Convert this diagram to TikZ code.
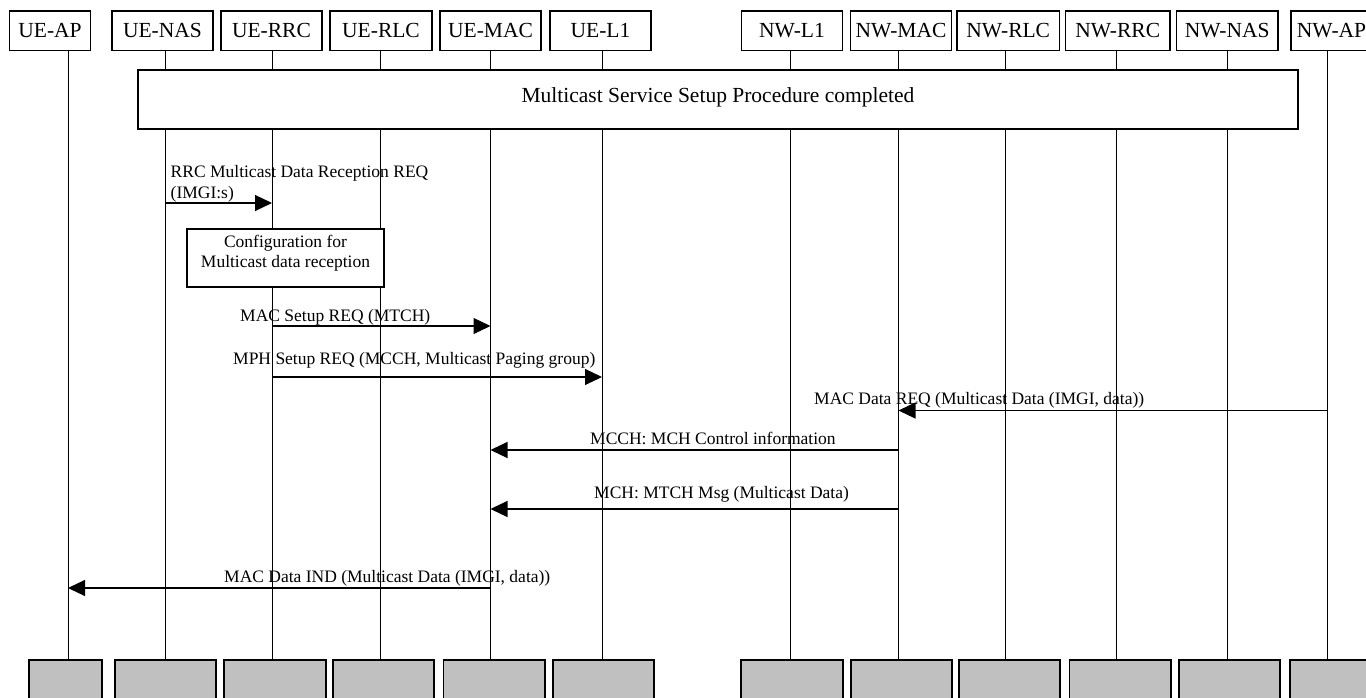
\documentclass[tikz,border=0pt]{standalone}
\usepackage{fontspec}
\setmainfont{Liberation Serif}
\usetikzlibrary{arrows.meta}
\definecolor{boxgray}{RGB}{192,192,192}
\begin{document}
\begin{tikzpicture}[x=1pt,y=-1pt,
  hdr/.style={draw=black, line width=1.2pt, fill=white, inner sep=0pt,
    font=\fontsize{21.5}{24}\selectfont, minimum height=39.5pt},
  foot/.style={draw=black, line width=1.2pt, fill=boxgray, inner sep=0pt, minimum height=60pt},
  frame/.style={draw=black, line width=1.2pt, fill=white, inner sep=0pt},
  life/.style={line width=1pt},
  msg/.style={line width=1.1pt, -{Triangle[length=17pt,width=16pt]}},
  lbl/.style={font=\fontsize{17.5}{20.7}\selectfont, inner sep=0pt, anchor=base west},
  ttl/.style={font=\fontsize{21.5}{24}\selectfont, inner sep=0pt, anchor=base}]
\clip (0,0) rectangle (1366,698);
\fill[white] (0,0) rectangle (1366,698);

% lifeline positions
\coordinate (lUEAP) at (68,0);
\coordinate (lUENAS) at (165,0);
\coordinate (lUERRC) at (272,0);
\coordinate (lUERLC) at (380,0);
\coordinate (lUEMAC) at (490.5,0);
\coordinate (lUEL1) at (602,0);
\coordinate (lNWL1) at (790.5,0);
\coordinate (lNWMAC) at (898.5,0);
\coordinate (lNWRLC) at (1005,0);
\coordinate (lNWRRC) at (1116.5,0);
\coordinate (lNWNAS) at (1227.5,0);
\coordinate (lNWAP) at (1327.5,0);

% lifelines
\foreach \l in {lUEAP,lUENAS,lUERRC,lUERLC,lUEMAC,lUEL1,lNWL1,lNWMAC,lNWRLC,lNWRRC,lNWNAS,lNWAP}
  \draw[life] (\l |- 0,50) -- (\l |- 0,660);

% header boxes
\node[hdr, minimum width=81pt] (hUEAP) at (50,30.75) {UE-AP};
\node[hdr, minimum width=101pt] (hUENAS) at (162.5,30.75) {UE-NAS};
\node[hdr, minimum width=101pt] (hUERRC) at (271.5,30.75) {UE-RRC};
\node[hdr, minimum width=102pt] (hUERLC) at (381,30.75) {UE-RLC};
\node[hdr, minimum width=101pt] (hUEMAC) at (490.5,30.75) {UE-MAC};
\node[hdr, minimum width=101pt] (hUEL1) at (600.5,30.75) {UE-L1};
\node[hdr, minimum width=101pt] (hNWL1) at (792,30.75) {NW-L1};
\node[hdr, minimum width=101pt] (hNWMAC) at (901,30.75) {NW-MAC};
\node[hdr, minimum width=102.5pt] (hNWRLC) at (1008.25,30.75) {NW-RLC};
\node[hdr, minimum width=104.5pt] (hNWRRC) at (1117.75,30.75) {NW-RRC};
\node[hdr, minimum width=101.5pt] (hNWNAS) at (1227.25,30.75) {NW-NAS};
\node[hdr, minimum width=81pt] (hNWAP) at (1331.5,30.75) {NW-AP};

% bottom boxes
\node[foot, minimum width=73pt] (bUEAP) at (65.5,690) {};
\node[foot, minimum width=101pt] (bUENAS) at (165.5,690) {};
\node[foot, minimum width=102pt] (bUERRC) at (275,690) {};
\node[foot, minimum width=101pt] (bUERLC) at (383.5,690) {};
\node[foot, minimum width=101.5pt] (bUEMAC) at (494.25,690) {};
\node[foot, minimum width=101pt] (bUEL1) at (603.5,690) {};
\node[foot, minimum width=102pt] (bNWL1) at (792,690) {};
\node[foot, minimum width=101pt] (bNWMAC) at (901.5,690) {};
\node[foot, minimum width=101pt] (bNWRLC) at (1009.5,690) {};
\node[foot, minimum width=101.5pt] (bNWRRC) at (1120.25,690) {};
\node[foot, minimum width=101pt] (bNWNAS) at (1229.5,690) {};
\node[foot, minimum width=82pt] (bNWAP) at (1331,690) {};

% multicast setup frame
\node[frame, minimum width=1160pt, minimum height=59pt] (setup) at (718,99.5) {};
\node[ttl] (setuptxt) at (718,102.5) {Multicast Service Setup Procedure completed};

% configuration box
\node[frame, minimum width=197pt, minimum height=58pt] (cfg) at (285.5,258) {};
\node[lbl, anchor=base] (cfgt1) at (285.5,247) {Configuration for};
\node[lbl, anchor=base] (cfgt2) at (285.5,267.5) {Multicast data reception};

% messages
\node[lbl] (m1a) at (170.5,177.5) {RRC Multicast Data Reception REQ};
\node[lbl] (m1b) at (170.5,198) {(IMGI:s)};
\draw[msg] (lUENAS |- 0,203) -- (lUERRC |- 0,203);

\node[lbl] (m2) at (240,321) {MAC Setup REQ (MTCH)};
\draw[msg] (lUERRC |- 0,326) -- (lUEMAC |- 0,326);

\node[lbl] (m3) at (233,364) {MPH Setup REQ (MCCH, Multicast Paging group)};
\draw[msg] (lUERRC |- 0,377) -- (lUEL1 |- 0,377);

\node[lbl] (m4) at (814,404) {MAC Data REQ (Multicast Data (IMGI, data))};
\draw[msg] (lNWAP |- 0,410.5) -- (lNWMAC |- 0,410.5);

\node[lbl] (m5) at (590,444) {MCCH: MCH Control information};
\draw[msg] (lNWMAC |- 0,450) -- (lUEMAC |- 0,450);

\node[lbl] (m6) at (594,498) {MCH: MTCH Msg (Multicast Data)};
\draw[msg] (lNWMAC |- 0,509) -- (lUEMAC |- 0,509);

\node[lbl] (m7) at (224,582) {MAC Data IND (Multicast Data (IMGI, data))};
\draw[msg] (lUEMAC |- 0,588) -- (lUEAP |- 0,588);
\end{tikzpicture}
\end{document}
